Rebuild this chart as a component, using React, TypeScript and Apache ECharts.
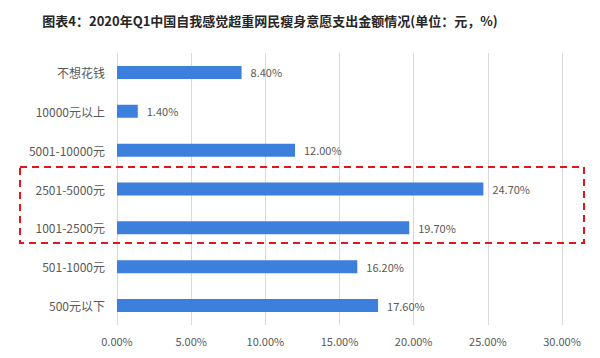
import React, { useEffect, useRef } from "react";
import * as echarts from "echarts";

const titleText = "图表4：2020年Q1中国自我感觉超重网民瘦身意愿支出金额情况(单位：元，%)";
const categories = ["不想花钱", "10000元以上", "5001-10000元", "2501-5000元", "1001-2500元", "501-1000元", "500元以下"];
const values = [8.4, 1.4, 12.0, 24.7, 19.7, 16.2, 17.6];
const xMin = 0;
const xMax = 30;
const xInterval = 5;

export default function App() {
  const ref = useRef<HTMLDivElement>(null);
  useEffect(() => {
    if (!ref.current) return;
    const chart = echarts.init(ref.current, undefined, { renderer: "svg" });
    const font = "'Microsoft YaHei', 'Noto Sans CJK SC', sans-serif";
    chart.setOption({
      animation: false,
      backgroundColor: "#ffffff",
      title: {
        text: titleText,
        left: 265,
        textAlign: "center",
        top: 9,
        textStyle: { fontSize: 13, fontWeight: "bold", color: "#262626", fontFamily: font },
      },
      grid: { left: 117, right: 38, top: 53, bottom: 33, containLabel: false },
      xAxis: {
        type: "value",
        min: xMin,
        max: xMax,
        interval: xInterval,
        axisLine: { show: false },
        axisTick: { show: false },
        splitLine: { show: true, lineStyle: { color: "#d9d9d9", width: 1 } },
        axisLabel: {
          color: "#595959",
          fontSize: 11,
          fontFamily: font,
          margin: 10,
          formatter: (v: number) => v.toFixed(2) + "%",
        },
      },
      yAxis: {
        type: "category",
        data: categories,
        inverse: true,
        axisLine: { show: false },
        axisTick: { show: false },
        splitLine: { show: false },
        axisLabel: { color: "#595959", fontSize: 12, fontFamily: font, margin: 12 },
      },
      series: [
        {
          type: "bar",
          data: values,
          barWidth: 13,
          itemStyle: { color: "#3c7fdc" },
          label: {
            show: true,
            position: "right",
            distance: 9,
            color: "#595959",
            fontSize: 11,
            fontFamily: font,
            formatter: (p: any) => Number(p.value).toFixed(2) + "%",
          },
        },
      ],
      graphic: [
        {
          type: "rect",
          shape: { x: 20, y: 167, width: 564, height: 76 },
          style: { fill: "none", stroke: "#e8141b", lineWidth: 2, lineDash: [7, 5] },
          z: 10,
        },
      ],
    });
    return () => chart.dispose();
  }, []);
  return <div ref={ref} style={{ position: "fixed", left: 0, top: 0, width: 600, height: 358 }} />;
}
